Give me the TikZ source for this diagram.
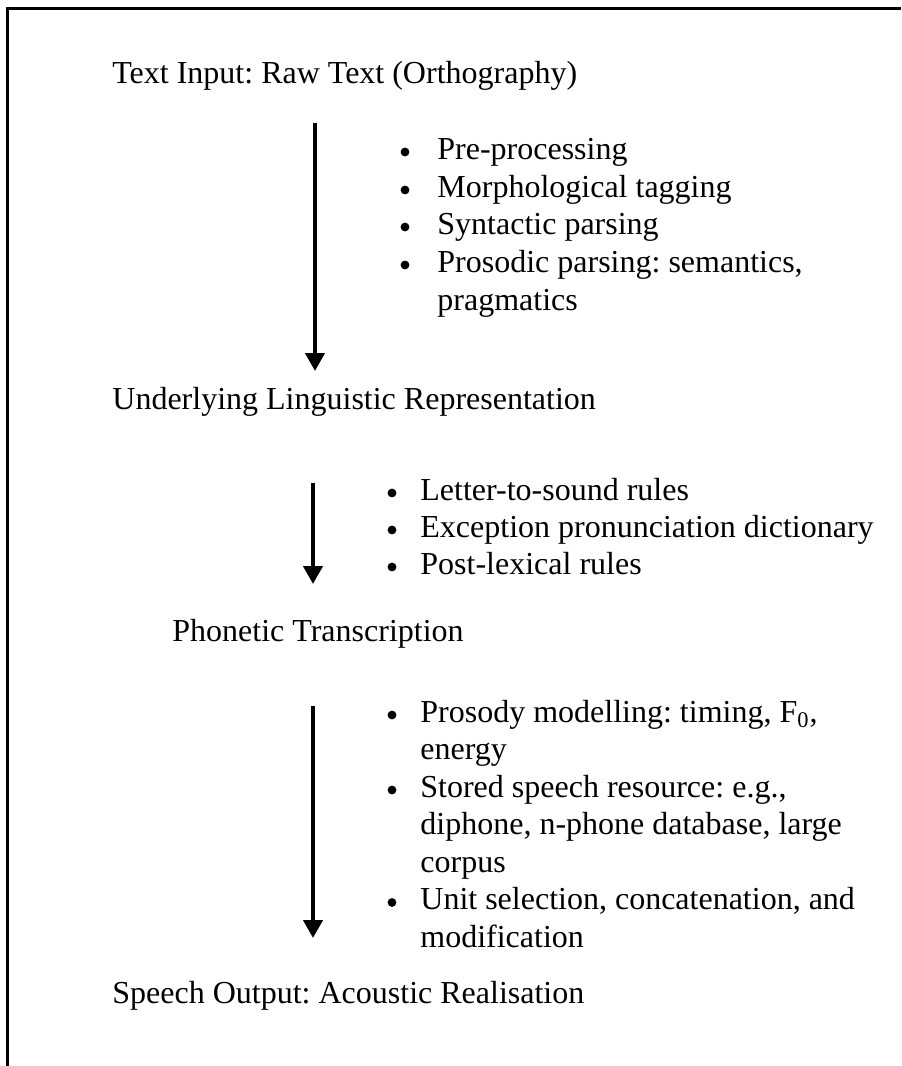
\documentclass[tikz,border=0pt]{standalone}
\usepackage{fontspec}
\setmainfont{Liberation Serif}
\usetikzlibrary{arrows.meta}
\begin{document}
\frenchspacing
\begin{tikzpicture}[x=0.5pt,y=-0.5pt,
  txt/.style={anchor=base west,inner sep=0pt,font=\fontsize{16}{19}\selectfont},
  dot/.style={circle,fill=black,inner sep=0pt,minimum size=4.4pt},
  flow/.style={line width=2.1pt,-{Triangle[length=9pt,width=9.5pt]}},
  frame/.style={line width=1.4pt}]
\useasboundingbox (0,0) rectangle (901,1066);
% open frame: top and left edges
\draw[frame] (7.5,1066) -- (7.5,8.5) -- (901,8.5);

% stage headings
\node[txt] (t1) at (112,83) {Text Input: Raw Text (Orthography)};
\node[txt] (t2) at (112,409) {Underlying Linguistic Representation};
\node[txt] (t3) at (172,641) {Phonetic Transcription};
\node[txt] (t4) at (112,1003) {Speech Output: Acoustic Realisation};

% arrows between stages
\coordinate (a1s) at (315,123); \coordinate (a1e) at (315,371);
\coordinate (a2s) at (313,483); \coordinate (a2e) at (313,584);
\coordinate (a3s) at (313,706); \coordinate (a3e) at (313,938);
\draw[flow] (a1s) -- (a1e);
\draw[flow] (a2s) -- (a2e);
\draw[flow] (a3s) -- (a3e);

% first list
\foreach \y/\n in {159/1,197/2,234/3,272/4}
  \node[dot] (b1\n) at (405,\y-7) {};
\node[txt] (l11) at (437,159) {Pre-processing};
\node[txt] (l12) at (437,197) {Morphological tagging};
\node[txt] (l13) at (437,234) {Syntactic parsing};
\node[txt] (l14) at (437,272) {Prosodic parsing: semantics,};
\node[txt] (l15) at (437,310) {pragmatics};

% second list
\foreach \y/\n in {500/1,537/2,574/3}
  \node[dot] (b2\n) at (392,\y-7) {};
\node[txt] (l21) at (420,500) {Letter-to-sound rules};
\node[txt] (l22) at (420,537) {Exception pronunciation dictionary};
\node[txt] (l23) at (420,574) {Post-lexical rules};

% third list
\foreach \y/\n in {722/1,797/2,909.5/3}
  \node[dot] (b3\n) at (392,\y-7) {};
\node[txt] (l31) at (420,722) {Prosody modelling: timing, F\textsubscript{0},};
\node[txt] (l32) at (420,759.5) {energy};
\node[txt] (l33) at (420,797) {Stored speech resource: e.g.,};
\node[txt] (l34) at (420,834.5) {diphone, n-phone database, large};
\node[txt] (l35) at (420,872) {corpus};
\node[txt] (l36) at (420,909.5) {Unit selection, concatenation, and};
\node[txt] (l37) at (420,947) {modification};
\end{tikzpicture}
\end{document}
